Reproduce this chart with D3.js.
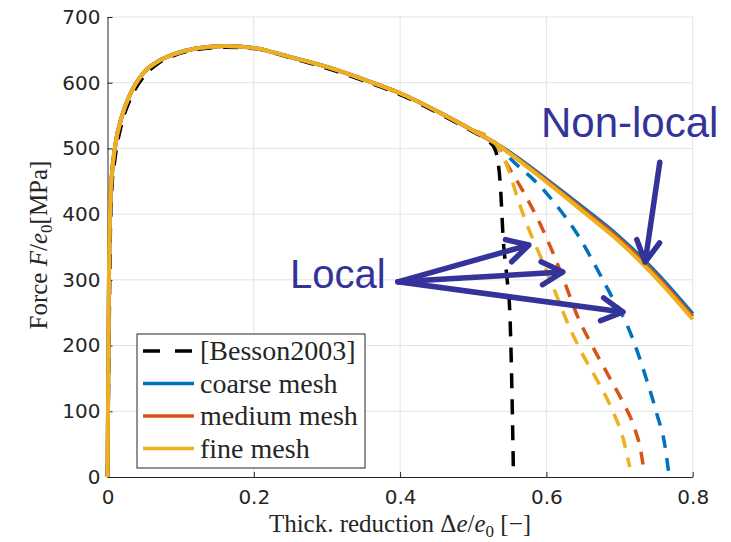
<!DOCTYPE html>
<html>
<head>
<meta charset="utf-8">
<script src="https://cdn.jsdelivr.net/npm/d3@7/dist/d3.min.js"></script>
<style>
  body { margin: 0; background: #fff; }
  svg { display: block; }
</style>
</head>
<body>
<svg id="chart" width="731" height="542"></svg>
<script>
// ---- values ----
const xTicks = [0, 0.2, 0.4, 0.6, 0.8];
const yTicks = [0, 100, 200, 300, 400, 500, 600, 700];

// non-local (solid) curves share one x grid
const xMain   = [0, 0.001, 0.002, 0.004, 0.006, 0.01, 0.02, 0.03, 0.05, 0.07, 0.09, 0.12, 0.16, 0.2, 0.25, 0.3, 0.35, 0.4, 0.45, 0.5, 0.53, 0.55, 0.6, 0.65, 0.7, 0.75, 0.8];
const coarseF = [0, 150, 300, 420, 460, 500, 550, 580, 616, 633, 643, 652, 656, 653, 639, 624, 605, 584, 557, 527, 508, 494, 453, 410, 365, 311, 248];
const mediumF = [0, 150, 300, 420, 460, 500, 550, 580, 616, 633, 643, 652, 656, 653, 639, 624, 605, 584, 557, 527, 508, 493, 451, 407, 362, 307, 244];
const fineF   = [0, 150, 300, 420, 460, 500, 550, 580, 616, 633, 643, 652, 656, 653, 639, 624, 605, 584, 557, 527, 508, 492, 449, 404, 358, 303, 240];

// reference curve
const bessonX = [0, 0.001, 0.002, 0.004, 0.006, 0.01, 0.02, 0.03, 0.05, 0.07, 0.09, 0.12, 0.16, 0.2, 0.25, 0.3, 0.35, 0.4, 0.45, 0.5, 0.52, 0.53, 0.537, 0.541, 0.546, 0.55, 0.553, 0.555];
const bessonF = [0, 100, 200, 380, 440, 482, 540, 572, 610, 630, 641, 650, 654, 652, 638, 622, 603, 582, 555, 525, 512, 498, 445, 361, 304, 250, 125, 0];

// local (dashed) curves
const coarseLocalX = [0.5, 0.53, 0.553, 0.591, 0.619, 0.646, 0.669, 0.691, 0.71, 0.724, 0.737, 0.751, 0.762, 0.767];
const coarseLocalF = [527, 508, 482, 443, 406, 363, 317, 271, 232, 192, 148, 96, 48, 8];
const mediumLocalX = [0.5, 0.53, 0.546, 0.567, 0.591, 0.609, 0.627, 0.642, 0.662, 0.684, 0.705, 0.72, 0.729, 0.733];
const mediumLocalF = [527, 508, 476, 437, 386, 341, 290, 246, 201, 156, 113, 76, 40, 12];
const fineLocalX   = [0.5, 0.53, 0.55, 0.56, 0.575, 0.594, 0.614, 0.628, 0.646, 0.669, 0.69, 0.705, 0.714];
const fineLocalF   = [527, 508, 462, 426, 380, 330, 276, 237, 194, 148, 102, 58, 15];

const legendLabels = ["[Besson2003]", "coarse mesh", "medium mesh", "fine mesh"];

// annotation anchors in data units
const localText = [0.2495, 288];
const localFrom = [0.397, 297];
const localTips = [[0.576, 353], [0.6225, 312], [0.7047, 251]];
const nonLocalText = [0.5926, 518];
const nonLocalFrom = [0.755, 479];
const nonLocalTip = [0.735, 327];

// ---- drawing ----
const svg = d3.select("#chart");
const blue = "#0072BD", red = "#D95319", yellow = "#EDB120", ink = "#262626", note = "#333399";

const x = d3.scaleLinear().domain([0, 0.8]).range([107.5, 692.7]);
const y = d3.scaleLinear().domain([0, 700]).range([477, 17]);

// grid
svg.append("g").selectAll("line").data(xTicks.slice(1)).enter().append("line")
  .attr("x1", d => x(d)).attr("x2", d => x(d)).attr("y1", y(0)).attr("y2", y(700))
  .attr("stroke", "#e3e3e3").attr("stroke-width", 1);
svg.append("g").selectAll("line").data(yTicks.slice(1)).enter().append("line")
  .attr("x1", x(0)).attr("x2", x(0.8)).attr("y1", d => y(d)).attr("y2", d => y(d))
  .attr("stroke", "#e3e3e3").attr("stroke-width", 1);

// axes with inward ticks
const xAxis = svg.append("g").attr("transform", `translate(0,${y(0)})`)
  .call(d3.axisBottom(x).tickValues(xTicks).tickSizeInner(-5).tickSizeOuter(0).tickPadding(13)
    .tickFormat(d => d === 0 ? "0" : d3.format(".1f")(d)));
const yAxis = svg.append("g").attr("transform", `translate(${x(0)},0)`)
  .call(d3.axisLeft(y).tickValues(yTicks).tickSizeInner(-5).tickSizeOuter(0).tickPadding(7));
[xAxis, yAxis].forEach(g => {
  g.select(".domain").attr("stroke", ink);
  g.selectAll(".tick line").attr("stroke", ink);
  g.selectAll("text").attr("fill", ink).style("font-family", "'DejaVu Sans', sans-serif").style("font-size", "20px");
});

const line = d3.line().x(d => x(d[0])).y(d => y(d[1])).curve(d3.curveMonotoneX);
const zip = (xs, ys) => xs.map((v, i) => [v, ys[i]]);

const series = [
  { pts: zip(bessonX, bessonF), color: "#000", w: 3.5, dash: "15 11" },
  { pts: zip(coarseLocalX, coarseLocalF), color: blue, w: 3.5, dash: "13 10" },
  { pts: zip(mediumLocalX, mediumLocalF), color: red, w: 3.5, dash: "13 10" },
  { pts: zip(fineLocalX, fineLocalF), color: yellow, w: 3.5, dash: "13 10" },
  { pts: zip(xMain, coarseF), color: blue, w: 4, dash: null },
  { pts: zip(xMain, mediumF), color: red, w: 4, dash: null },
  { pts: zip(xMain, fineF), color: yellow, w: 4, dash: null }
];
svg.append("g").selectAll("path").data(series).enter().append("path")
  .attr("d", d => line(d.pts))
  .attr("fill", "none")
  .attr("stroke", d => d.color)
  .attr("stroke-width", d => d.w)
  .attr("stroke-dasharray", d => d.dash);

// axis labels (LaTeX look)
const serif = "'Liberation Serif', 'Times New Roman', serif";
const xl = svg.append("text").attr("x", 400).attr("y", 532).attr("text-anchor", "middle")
  .style("font-family", serif).style("font-size", "25px").attr("fill", ink);
xl.append("tspan").text("Thick. reduction ");
xl.append("tspan").text("Δ");
xl.append("tspan").attr("font-style", "italic").text("e");
xl.append("tspan").text("/");
xl.append("tspan").attr("font-style", "italic").text("e");
xl.append("tspan").attr("font-size", "17px").attr("dy", 5).text("0");
xl.append("tspan").attr("dy", -5).text(" [−]");

const yl = svg.append("text").attr("transform", "translate(47,245) rotate(-90)").attr("text-anchor", "middle")
  .style("font-family", serif).style("font-size", "25px").attr("fill", ink);
yl.append("tspan").text("Force ");
yl.append("tspan").attr("font-style", "italic").text("F");
yl.append("tspan").text("/");
yl.append("tspan").attr("font-style", "italic").text("e");
yl.append("tspan").attr("font-size", "17px").attr("dy", 5).text("0");
yl.append("tspan").attr("dy", -5).text("[MPa]");

// legend
const lg = svg.append("g").attr("transform", "translate(137,334)");
lg.append("rect").attr("width", 228).attr("height", 134).attr("fill", "#fff").attr("stroke", ink).attr("stroke-width", 1);
const legendStyle = series.slice(0, 1).concat(series.slice(4));
legendLabels.forEach((lab, i) => {
  const cy = 17 + i * 32.5;
  const s = legendStyle[i];
  lg.append("line").attr("x1", 6).attr("x2", 57).attr("y1", cy).attr("y2", cy)
    .attr("stroke", s.color).attr("stroke-width", 3.5).attr("stroke-dasharray", i === 0 ? "17 15" : null);
  lg.append("text").attr("x", 63).attr("y", cy + 9).text(lab)
    .style("font-family", serif).style("font-size", "28px").attr("fill", ink);
});

// annotations
function arrow(from, tip) {
  const x0 = x(from[0]), y0 = y(from[1]), x1 = x(tip[0]), y1 = y(tip[1]);
  const a = Math.atan2(y0 - y1, x0 - x1), len = 24, spread = 0.5;
  const p = d3.path();
  p.moveTo(x0, y0); p.lineTo(x1, y1);
  p.moveTo(x1 + len * Math.cos(a + spread), y1 + len * Math.sin(a + spread));
  p.lineTo(x1, y1);
  p.lineTo(x1 + len * Math.cos(a - spread), y1 + len * Math.sin(a - spread));
  svg.append("path").attr("d", p.toString()).attr("fill", "none").attr("stroke", note)
    .attr("stroke-width", 5.5).attr("stroke-linecap", "round").attr("stroke-linejoin", "round");
}
localTips.forEach(t => arrow(localFrom, t));
arrow(nonLocalFrom, nonLocalTip);

const sans = "'Liberation Sans', Arial, sans-serif";
svg.append("text").attr("x", x(localText[0])).attr("y", y(localText[1])).text("Local")
  .style("font-family", sans).style("font-size", "40px").attr("fill", note);
svg.append("text").attr("x", x(nonLocalText[0])).attr("y", y(nonLocalText[1])).text("Non-local")
  .style("font-family", sans).style("font-size", "42px").attr("fill", note);
</script>
</body>
</html>
